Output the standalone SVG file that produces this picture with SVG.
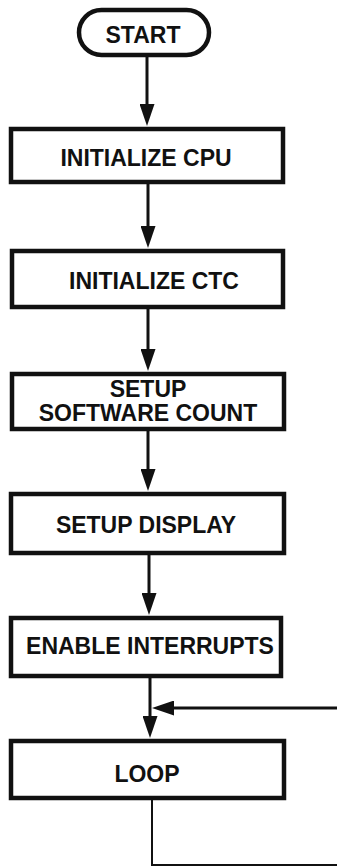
<svg xmlns="http://www.w3.org/2000/svg" width="337" height="867" viewBox="0 0 337 867">
<style>
.box{fill:#fff;stroke:#111;stroke-width:4.5}
.t{font-family:"Liberation Sans",Arial,sans-serif;font-weight:bold;font-size:23px;fill:#111;text-anchor:middle}
.c{fill:none;stroke:#111;stroke-width:3}
.thin{fill:none;stroke:#111;stroke-width:2}
</style>
<defs>
<marker id="ah" markerUnits="userSpaceOnUse" markerWidth="22" markerHeight="15" refX="12" refY="7.5" orient="auto">
<path d="M0,0 L22,7.5 L0,15 z" fill="#111"/>
</marker>
</defs>
<rect width="337" height="867" fill="#fff"/>
<g id="connectors">
<path class="c" d="M147,56 V116" marker-end="url(#ah)"/>
<path class="c" d="M148,183 V238" marker-end="url(#ah)"/>
<path class="c" d="M148,308 V361" marker-end="url(#ah)"/>
<path class="c" d="M148,430 V481" marker-end="url(#ah)"/>
<path class="c" d="M149,554 V605" marker-end="url(#ah)"/>
<path class="c" d="M150,677 V728" marker-end="url(#ah)"/>
<path class="c" d="M337,708 H162" marker-end="url(#ah)"/>
<path class="thin" d="M152,799 V865 H337"/>
</g>
<g id="start">
<rect class="box" x="79" y="10" width="130" height="45" rx="22.5" stroke-width="3.5"/>
<text class="t" x="143" y="43" font-size="22">START</text>
</g>
<g id="init-cpu">
<rect class="box" x="11" y="129" width="272" height="53"/>
<text class="t" x="146" y="166">INITIALIZE CPU</text>
</g>
<g id="init-ctc">
<rect class="box" x="12" y="251" width="271" height="56"/>
<text class="t" x="154" y="289">INITIALIZE CTC</text>
</g>
<g id="setup-count">
<rect class="box" x="12" y="374" width="272" height="55"/>
<text class="t" x="148" y="397" font-size="21">SETUP</text>
<text class="t" x="148" y="421" font-size="22">SOFTWARE COUNT</text>
</g>
<g id="setup-display">
<rect class="box" x="11" y="494" width="273" height="59"/>
<text class="t" x="146" y="533">SETUP DISPLAY</text>
</g>
<g id="enable-int">
<rect class="box" x="11" y="618" width="270" height="58"/>
<text class="t" x="150" y="654">ENABLE INTERRUPTS</text>
</g>
<g id="loop">
<rect class="box" x="11" y="741" width="273" height="57"/>
<text class="t" x="147" y="782">LOOP</text>
</g>
</svg>
